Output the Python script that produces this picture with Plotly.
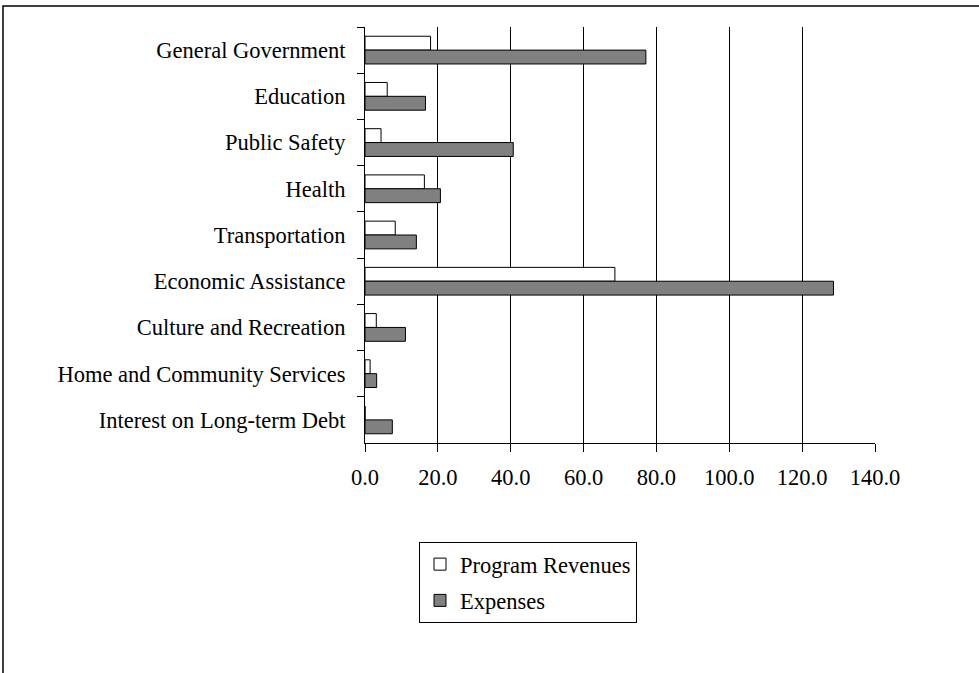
import plotly.graph_objects as go

categories = ["General Government", "Education", "Public Safety", "Health",
              "Transportation", "Economic Assistance", "Culture and Recreation",
              "Home and Community Services", "Interest on Long-term Debt"]
program_revenues = [18.0, 6.1, 4.4, 16.3, 8.3, 68.6, 3.1, 1.4, 0.0]
expenses = [77.1, 16.6, 40.7, 20.7, 14.1, 128.6, 11.1, 3.2, 7.5]
x_ticks = [0, 20, 40, 60, 80, 100, 120, 140]

FONT = "Liberation Serif, Times New Roman, serif"
FS = 22.5

fig = go.Figure()
fig.add_trace(go.Bar(y=categories, x=program_revenues, orientation="h",
                     name="Program Revenues", legendgroup="a",
                     marker=dict(color="white", line=dict(color="black", width=1))))
fig.add_trace(go.Bar(y=categories, x=expenses, orientation="h",
                     name="Expenses", legendgroup="b",
                     marker=dict(color="#808080", line=dict(color="black", width=1))))

L, R, T, B = 365, 104, 27, 230
W, H = 979, 673
pw, ph = W - L - R, H - T - B

def px_x(p):
    return (p - L) / pw

def px_y(p):
    return (H - B - p) / ph

fig.update_layout(
    width=W, height=H,
    margin=dict(l=L, r=R, t=T, b=B),
    paper_bgcolor="white", plot_bgcolor="white",
    barmode="group", bargap=0.4, bargroupgap=0,
    font=dict(family=FONT, size=FS, color="black"),
    showlegend=True,
    legend=dict(x=px_x(419), y=px_y(542), xanchor="left", yanchor="top",
                bordercolor="black", borderwidth=1, bgcolor="white",
                tracegroupgap=4, traceorder="grouped",
                font=dict(family=FONT, size=FS, color="black")),
    xaxis=dict(range=[0, 140], tickvals=x_ticks, tickformat=".1f",
               showgrid=True, gridcolor="black", gridwidth=1,
               showline=True, linecolor="black", linewidth=1,
               ticks="outside", ticklen=8, tickcolor="black",
               ticklabelstandoff=6, zeroline=False),
    yaxis=dict(autorange="reversed", showgrid=False,
               showline=True, linecolor="black", linewidth=1,
               ticks="outside", ticklen=7, tickcolor="black",
               tickson="boundaries", ticklabelstandoff=14),
    shapes=[dict(type="rect", xref="paper", yref="paper",
                 x0=px_x(3), x1=px_x(1000), y0=px_y(700), y1=px_y(6),
                 line=dict(color="black", width=1.5), fillcolor="rgba(0,0,0,0)",
                 layer="below")],
)

fig.write_html("out.html")
